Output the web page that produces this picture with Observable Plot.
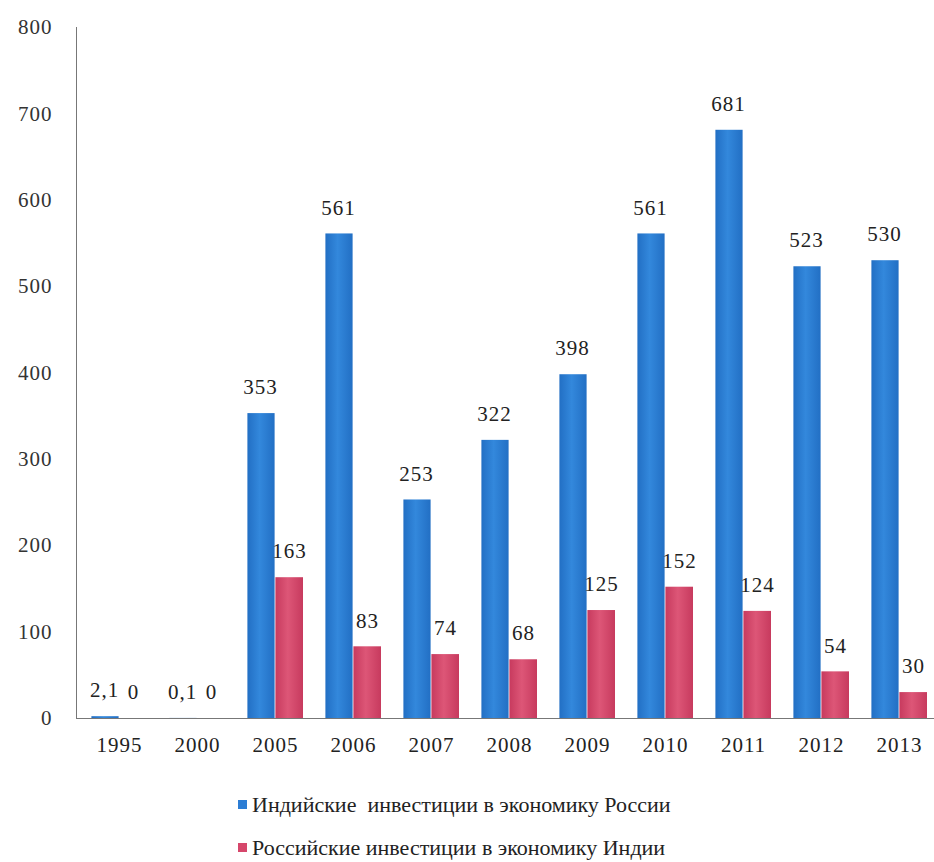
<!DOCTYPE html>
<html>
<head>
<meta charset="utf-8">
<script src="https://cdn.jsdelivr.net/npm/d3@7"></script>
<script src="https://cdn.jsdelivr.net/npm/@observablehq/plot@0.6"></script>
<style>
  body { margin: 0; background: #fff; font-family: "Liberation Serif", "DejaVu Serif", serif; }
  #chart svg { overflow: visible; }
  .legend { margin-left: 238px; margin-top: 13px; font-size: 22px; color: #222; }
  .legend div { height: 43px; display: flex; align-items: center; white-space: pre; }
  .legend span.sw { display: inline-block; width: 9px; height: 9px; margin-right: 5px; }
</style>
</head>
<body>
<div id="chart"></div>
<div class="legend" id="legend"></div>
<script>
const years = ["1995", "2000", "2005", "2006", "2007", "2008", "2009", "2010", "2011", "2012", "2013"];
const indiaToRussia = [2.1, 0.1, 353, 561, 253, 322, 398, 561, 681, 523, 530];
const russiaToIndia = [0, 0, 163, 83, 74, 68, 125, 152, 124, 54, 30];
const yTicks = [0, 100, 200, 300, 400, 500, 600, 700, 800];
const seriesNames = ["Индийские  инвестиции в экономику России", "Российские инвестиции в экономику Индии"];
const seriesColors = ["#2c7dd4", "#d6476b"];

const blue = years.map((y, i) => ({year: y, value: indiaToRussia[i]}));
const red = years.map((y, i) => ({year: y, value: russiaToIndia[i]}));
const fmt = v => String(v).replace(".", ",");

const chart = Plot.plot({
  width: 934,
  height: 770,
  marginLeft: 76,
  marginRight: -8,
  marginTop: 27,
  marginBottom: 52,
  x: {domain: years, padding: 0, label: null},
  y: {domain: [0, 800], label: null},
  style: {fontFamily: "'Liberation Serif', 'DejaVu Serif', serif", fontSize: "21px", color: "#222", background: "transparent", letterSpacing: "1px"},
  marks: [
    Plot.barY(blue, {x: "year", y: "value", fill: "url(#gBlue)", insetLeft: 11.4, insetRight: 39.4}),
    Plot.barY(red, {x: "year", y: "value", fill: "url(#gRed)", insetLeft: 39.4, insetRight: 11}),
    Plot.text(blue, {x: "year", y: "value", text: d => fmt(d.value), dx: -15, dy: -26, fill: "#222"}),
    Plot.text(red, {x: "year", y: "value", text: d => fmt(d.value), dx: 14, dy: -26, fill: "#222"}),
    Plot.axisY({ticks: yTicks, tickSize: 0, tickPadding: 24, label: null, fill: "#333"}),
    Plot.axisX({tickSize: 0, tickPadding: 19, label: null, fill: "#222"}),
    Plot.frame({anchor: "left", stroke: "#777", strokeDasharray: "2,1"}),
    Plot.frame({anchor: "bottom", stroke: "#777", strokeDasharray: "2,1"})
  ]
});

const defs = d3.select(chart).insert("defs", ":first-child");
function grad(id, edge, mid) {
  const g = defs.append("linearGradient").attr("id", id).attr("x1", "0").attr("x2", "1").attr("y1", "0").attr("y2", "0");
  g.append("stop").attr("offset", "0%").attr("stop-color", edge);
  g.append("stop").attr("offset", "45%").attr("stop-color", mid);
  g.append("stop").attr("offset", "100%").attr("stop-color", edge);
}
grad("gBlue", "#226fc4", "#3388dc");
grad("gRed", "#c73a5e", "#dd5677");

document.getElementById("chart").appendChild(chart);

const legend = document.getElementById("legend");
seriesNames.forEach((name, i) => {
  const row = document.createElement("div");
  const sw = document.createElement("span");
  sw.className = "sw";
  sw.style.background = seriesColors[i];
  row.appendChild(sw);
  row.appendChild(document.createTextNode(name));
  legend.appendChild(row);
});
</script>
</body>
</html>
